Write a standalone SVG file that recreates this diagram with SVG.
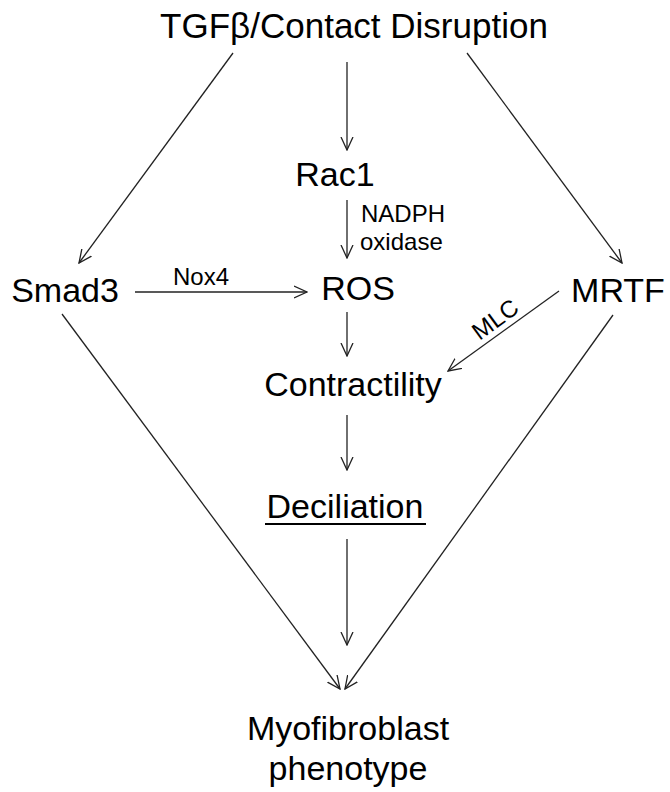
<svg xmlns="http://www.w3.org/2000/svg" width="670" height="792" viewBox="0 0 670 792">
<style>
.n{font-family:"Liberation Sans",Arial,sans-serif;font-size:34px;fill:#000;text-anchor:middle}
.s{font-family:"Liberation Sans",Arial,sans-serif;font-size:24px;fill:#000}
.c line{stroke:#222;stroke-width:1.3;marker-end:url(#a)}
</style>
<defs>
<marker id="a" viewBox="0 0 14 14" refX="13" refY="7" markerWidth="14" markerHeight="14" markerUnits="userSpaceOnUse" orient="auto">
<path d="M0,1 L13,7 L0,13" fill="none" stroke="#222" stroke-width="1.3"/>
</marker>
</defs>
<rect width="670" height="792" fill="#fff"/>
<g id="tgfb"><text class="n" x="354" y="38" style="font-size:35px">TGFβ/Contact Disruption</text></g>
<g id="rac1"><text class="n" x="335" y="186">Rac1</text></g>
<g id="smad3"><text class="n" x="65" y="302">Smad3</text></g>
<g id="ros"><text class="n" x="358" y="300">ROS</text></g>
<g id="mrtf"><text class="n" x="618" y="302">MRTF</text></g>
<g id="contractility"><text class="n" x="353" y="396">Contractility</text></g>
<g id="deciliation"><text class="n" x="345" y="518">Deciliation</text><line x1="265" y1="524" x2="426" y2="524" stroke="#000" stroke-width="1.8"/></g>
<g id="myofibroblast"><text class="n" x="348" y="740">Myofibroblast</text><text class="n" x="348" y="780">phenotype</text></g>
<g class="c" id="connectors">
<line x1="347" y1="62" x2="347" y2="150"/>
<line x1="233" y1="53" x2="79" y2="263"/>
<line x1="467" y1="53" x2="622" y2="263"/>
<line x1="347" y1="200" x2="347" y2="258"/>
<line x1="135" y1="292" x2="307" y2="292"/>
<line x1="347" y1="312" x2="347" y2="356"/>
<line x1="559" y1="291" x2="448" y2="371"/>
<line x1="347" y1="415" x2="347" y2="470"/>
<line x1="347" y1="539" x2="347" y2="645"/>
<line x1="62" y1="314" x2="340" y2="689"/>
<line x1="613" y1="315" x2="345" y2="689"/>
</g>
<g id="labels">
<text class="s" x="361" y="222">NADPH</text>
<text class="s" x="360" y="250">oxidase</text>
<text class="s" x="201" y="285" text-anchor="middle">Nox4</text>
<text class="s" text-anchor="middle" transform="translate(500,326) rotate(-36)">MLC</text>
</g>
</svg>
